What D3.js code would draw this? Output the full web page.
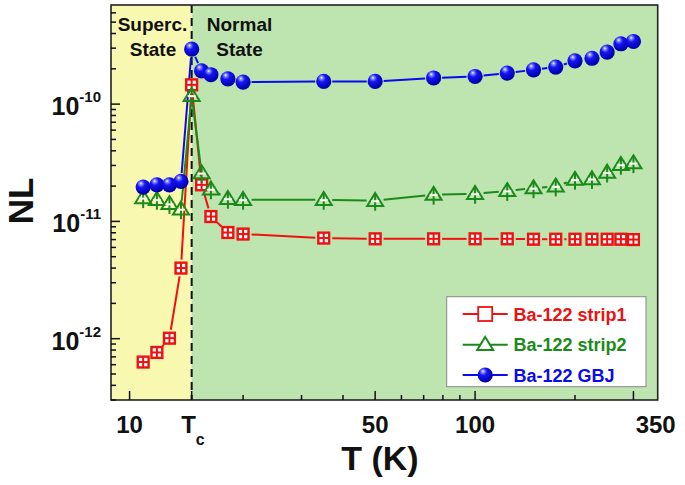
<!DOCTYPE html>
<html>
<head>
<meta charset="utf-8">
<script src="https://cdn.jsdelivr.net/npm/d3@7"></script>
<style>
  html, body { margin: 0; padding: 0; background: #fff; }
  svg { display: block; font-family: Arial, "Liberation Sans", sans-serif; }
</style>
</head>
<body>
<svg id="chart" width="685" height="485"></svg>
<script>
// ---------------- data ----------------
const temps = [10, 11, 12, 13, 14, 15, 16, 18, 20, 35, 50, 75, 100, 125, 150, 175, 200, 225, 250, 275, 300];
const strip1 = [6.32e-13, 7.63e-13, 1.01e-12, 4.0e-12, 1.46e-10, 2.05e-11, 1.10e-11, 8.04e-12, 7.8e-12, 7.21e-12,
                7.1e-12, 7.1e-12, 7.1e-12, 7.1e-12, 7.05e-12, 7.05e-12, 7.05e-12, 7.05e-12, 7.05e-12, 7.05e-12, 7.0e-12];
const strip2 = [1.58e-11, 1.53e-11, 1.41e-11, 1.27e-11, 1.18e-10, 2.58e-11, 1.88e-11, 1.56e-11, 1.53e-11, 1.53e-11,
                1.50e-11, 1.69e-11, 1.72e-11, 1.82e-11, 1.92e-11, 1.99e-11, 2.27e-11, 2.30e-11, 2.61e-11, 3.04e-11, 3.14e-11];
const gbj = [1.96e-11, 2.05e-11, 2.05e-11, 2.19e-11, 2.94e-10, 1.92e-10, 1.78e-10, 1.64e-10, 1.54e-10, 1.56e-10,
             1.56e-10, 1.67e-10, 1.72e-10, 1.84e-10, 1.96e-10, 2.07e-10, 2.34e-10, 2.46e-10, 2.78e-10, 3.27e-10, 3.42e-10];
const seriesNames = ["Ba-122 strip1", "Ba-122 strip2", "Ba-122 GBJ"];
const Tc = 14;
// x-axis ticks as drawn in the figure
const xMajorTicks = [9.1, 14, 50, 100, 300];
const xMinorTicks = [20, 30, 40, 60, 70, 80, 90, 200];
const xTickLabelPos = [9.1, 50, 100, 350];
const xTickLabels = ["10", "50", "100", "350"];
const yMajorTicks = [1e-12, 1e-11, 1e-10];
const yTickExponents = ["-12", "-11", "-10"];
const regionLabels = ["Superc.", "State", "Normal", "State"];

// ---------------- layout ----------------
const svg = d3.select("#chart");
const L = 111, R = 657.7, T = 5, B = 400;
const x = d3.scaleLog().domain([8, 355]).range([L, R]);
const y = d3.scaleLog().domain([3.0e-13, 7.0e-10]).range([B, T]);

const colors = { red: "#EE1111", green: "#1A8A1A", blue: "#0A0AEE" };
const yellowBg = "#F9F8B0", greenBg = "#BEE5AF";

// gradient for spheres
const defs = svg.append("defs");
const grad = defs.append("radialGradient").attr("id", "sphere")
  .attr("cx", "38%").attr("cy", "32%").attr("r", "65%").attr("fx", "35%").attr("fy", "25%");
grad.append("stop").attr("offset", "0%").attr("stop-color", "#ffffff");
grad.append("stop").attr("offset", "14%").attr("stop-color", "#8c8cff");
grad.append("stop").attr("offset", "40%").attr("stop-color", "#1515f5");
grad.append("stop").attr("offset", "100%").attr("stop-color", "#0000a8");

// backgrounds
svg.append("rect").attr("x", x(8)).attr("y", T).attr("width", x(Tc) - x(8)).attr("height", B - T).attr("fill", yellowBg);
svg.append("rect").attr("x", x(Tc)).attr("y", T).attr("width", R - x(Tc)).attr("height", B - T).attr("fill", greenBg);

// region text
const regionPos = [{ cx: 152.5, yy: 31 }, { cx: 153, yy: 56 }, { cx: 239.5, yy: 31 }, { cx: 239.5, yy: 56 }];
svg.selectAll("text.region").data(regionLabels).enter().append("text")
  .attr("class", "region")
  .attr("x", (d, i) => regionPos[i].cx).attr("y", (d, i) => regionPos[i].yy)
  .attr("text-anchor", "middle").attr("font-size", 19).attr("font-weight", "bold").attr("fill", "#111")
  .text(d => d);

// Tc dashed line
svg.append("line").attr("x1", x(Tc)).attr("x2", x(Tc)).attr("y1", T).attr("y2", B)
  .attr("stroke", "#111").attr("stroke-width", 2).attr("stroke-dasharray", "8,5");

// ---------------- series ----------------
const series = [
  { name: seriesNames[0], vals: strip1, color: colors.red, kind: "square" },
  { name: seriesNames[1], vals: strip2, color: colors.green, kind: "triangle" },
  { name: seriesNames[2], vals: gbj, color: colors.blue, kind: "sphere" }
];
const gap = 8.5;
series.forEach(s => {
  const pts = temps.map((t, i) => [x(t), y(s.vals[i])]);
  const g = svg.append("g");
  for (let i = 0; i < pts.length - 1; i++) {
    const [x1, y1] = pts[i], [x2, y2] = pts[i + 1];
    const dx = x2 - x1, dy = y2 - y1, len = Math.hypot(dx, dy);
    if (len <= 2 * gap + 1) continue;
    const ux = dx / len, uy = dy / len;
    g.append("line")
      .attr("x1", x1 + ux * gap).attr("y1", y1 + uy * gap)
      .attr("x2", x2 - ux * gap).attr("y2", y2 - uy * gap)
      .attr("stroke", s.color).attr("stroke-width", 2);
  }
});

function drawMarker(g, kind, cx, cy, color, legend) {
  if (kind === "square") {
    const h = 6;
    if (legend) {
      g.append("rect").attr("x", cx - 7).attr("y", cy - 7).attr("width", 14).attr("height", 14)
        .attr("fill", "#fff").attr("stroke", color).attr("stroke-width", 1.8);
      return;
    }
    g.append("rect").attr("x", cx - h).attr("y", cy - h).attr("width", 2 * h).attr("height", 2 * h)
      .attr("fill", color).attr("stroke", color).attr("stroke-width", 1.2);
    [[-1, -1], [1, -1], [-1, 1], [1, 1]].forEach(([sx, sy]) => {
      g.append("rect").attr("x", cx + (sx < 0 ? -4.2 : 1.0)).attr("y", cy + (sy < 0 ? -4.2 : 1.0))
        .attr("width", 3.2).attr("height", 3.2).attr("fill", "#fff");
    });
  } else if (kind === "triangle") {
    const w = 8, ht = 13;
    const path = `M${cx},${cy - ht * 0.6} L${cx + w},${cy + ht * 0.4} L${cx - w},${cy + ht * 0.4} Z`;
    g.append("path").attr("d", path).attr("fill", legend ? "#fff" : "none")
      .attr("stroke", color).attr("stroke-width", 2).attr("stroke-linejoin", "miter");
    if (!legend) {
      g.append("line").attr("x1", cx).attr("x2", cx).attr("y1", cy - ht * 0.6).attr("y2", cy + 10)
        .attr("stroke", color).attr("stroke-width", 2);
      g.append("line").attr("x1", cx - 4).attr("x2", cx + 4).attr("y1", cy + 0.5).attr("y2", cy + 0.5)
        .attr("stroke", "#fff").attr("stroke-width", 2);
    }
  } else {
    g.append("circle").attr("cx", cx).attr("cy", cy).attr("r", 7.6).attr("fill", "url(#sphere)");
  }
}

series.forEach(s => {
  const g = svg.append("g");
  temps.forEach((t, i) => drawMarker(g, s.kind, x(t), y(s.vals[i]), s.color, false));
});

// ---------------- frame & axes ----------------
svg.append("rect").attr("x", L).attr("y", T).attr("width", R - L).attr("height", B - T)
  .attr("fill", "none").attr("stroke", "#222").attr("stroke-width", 1.6);

// x ticks (inward)
const axG = svg.append("g").attr("stroke", "#111").attr("stroke-width", 1.5);
xMajorTicks.forEach(v => axG.append("line").attr("x1", x(v)).attr("x2", x(v)).attr("y1", B).attr("y2", B - 9));
xMinorTicks.forEach(v => axG.append("line").attr("x1", x(v)).attr("x2", x(v)).attr("y1", B).attr("y2", B - 5));

// y ticks
const yMinor = [];
for (let e = -13; e <= -10; e++) for (let m = 2; m <= 9; m++) {
  const v = m * Math.pow(10, e);
  if (v > y.domain()[0] && v < y.domain()[1]) yMinor.push(v);
}
yMajorTicks.forEach(v => axG.append("line").attr("x1", L).attr("x2", L + 9).attr("y1", y(v)).attr("y2", y(v)));
yMinor.forEach(v => axG.append("line").attr("x1", L).attr("x2", L + 5).attr("y1", y(v)).attr("y2", y(v)));

// x tick labels
xTickLabelPos.forEach((v, i) => {
  svg.append("text").attr("x", x(v)).attr("y", 433).attr("text-anchor", "middle")
    .attr("font-size", 24).attr("font-weight", "bold").attr("fill", "#111").text(xTickLabels[i]);
});
const tcLab = svg.append("text").attr("x", x(Tc) - 10.5).attr("y", 433)
  .attr("font-size", 24).attr("font-weight", "bold").attr("fill", "#111");
tcLab.append("tspan").text("T");
tcLab.append("tspan").attr("dy", 12).attr("font-size", 16).text("c");

// y tick labels
yMajorTicks.forEach((v, i) => {
  const t = svg.append("text").attr("x", 101).attr("y", y(v) + 11).attr("text-anchor", "end")
    .attr("font-weight", "bold").attr("fill", "#111");
  t.append("tspan").attr("font-size", 25).text("10");
  t.append("tspan").attr("font-size", 15).attr("dy", -13).text(yTickExponents[i]);
});

// axis titles
svg.append("text").attr("x", 380).attr("y", 470).attr("text-anchor", "middle")
  .attr("font-size", 34).attr("font-weight", "bold").attr("fill", "#111").text("T (K)");
svg.append("text").attr("transform", "translate(33,201) rotate(-90)").attr("text-anchor", "middle")
  .attr("font-size", 35).attr("font-weight", "bold").attr("fill", "#111").text("NL");

// ---------------- legend ----------------
const lg = svg.append("g");
lg.append("rect").attr("x", 446.7).attr("y", 296.7).attr("width", 199.3).attr("height", 90)
  .attr("fill", "#fff").attr("stroke", "#888").attr("stroke-width", 1);
const legY = [314, 344.7, 375];
series.forEach((s, i) => {
  const yy = legY[i];
  lg.append("line").attr("x1", 462.7).attr("x2", 507.7).attr("y1", yy).attr("y2", yy)
    .attr("stroke", s.color).attr("stroke-width", 2);
  drawMarker(lg, s.kind, 485.2, yy, s.color, true);
  lg.append("text").attr("x", 513.5).attr("y", yy + 6.5).attr("font-size", 18).attr("font-weight", "bold")
    .attr("fill", s.color).text(s.name);
});
</script>
</body>
</html>
